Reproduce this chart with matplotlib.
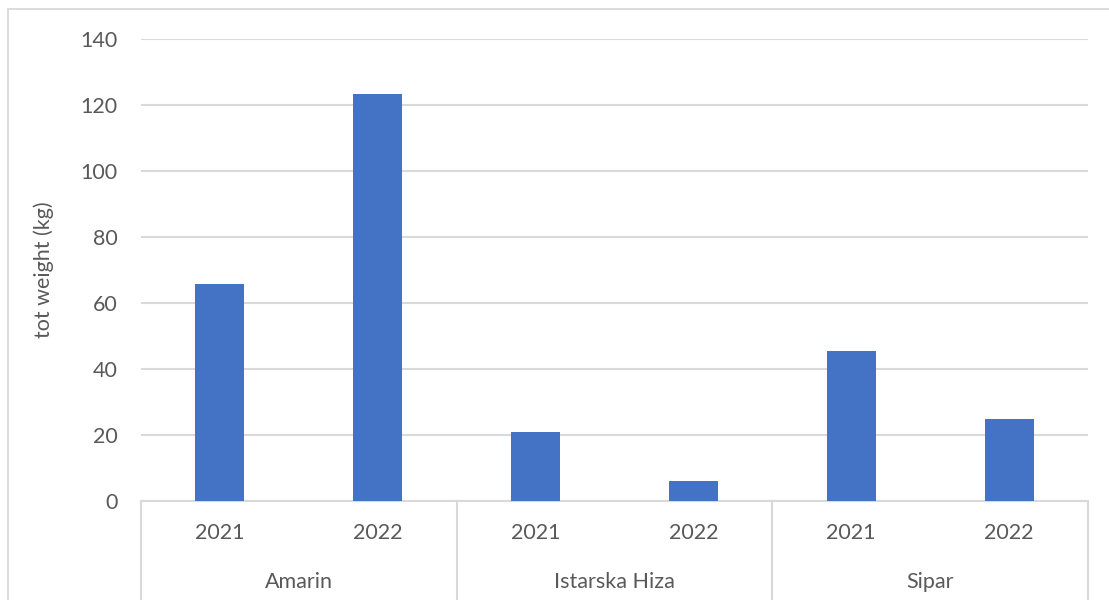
import numpy as np
import matplotlib
matplotlib.use("Agg")
from matplotlib import pyplot as plt
from matplotlib.patches import Rectangle
from matplotlib.lines import Line2D

# data
groups = ["Amarin", "Istarska Hiza", "Sipar"]
years = ["2021", "2022"]
amarin = [65.8, 123.3]
istarska = [20.9, 6.1]
sipar = [45.5, 24.8]

plt.rcParams['font.family'] = ['Lato', 'DejaVu Sans']
text_col = '#595959'
grid_col = '#d9d9d9'
bar_col = '#4472C4'
fs = 15.5

values = amarin + istarska + sipar
labels = years * len(groups)
x = np.arange(len(values))

fig = plt.figure(figsize=(11.09, 6.0), dpi=100)
# chart area border (only top/left visible in reference)
fig.patches.append(Rectangle((8 / 1109, -0.1), 1.2, 0.1 + 591 / 600, transform=fig.transFigure,
                             fill=False, edgecolor=grid_col, linewidth=1.3))

ax = fig.add_axes([141 / 1109, 1 - 501 / 600, (1088 - 141) / 1109, (501 - 39) / 600])
ax.bar(x, values, width=0.31, color=bar_col, zorder=3)

ax.set_xlim(-0.5, len(values) - 0.5)
ax.set_ylim(0, 140)
ax.set_yticks(np.arange(0, 141, 20))
ax.yaxis.grid(True, color=grid_col, linewidth=1.5, zorder=0)
ax.tick_params(axis='y', length=0, pad=17, labelsize=fs, labelcolor=text_col)
for s in ['top', 'right', 'left']:
    ax.spines[s].set_visible(False)
ax.spines['bottom'].set_color(grid_col)
ax.spines['bottom'].set_linewidth(1.5)

# year labels
ax.set_xticks(x)
ax.set_xticklabels(labels)
ax.tick_params(axis='x', length=0, pad=16, labelsize=fs, labelcolor=text_col)

# group labels and separators
trans = ax.get_xaxis_transform()
n = len(years)
for i, g in enumerate(groups):
    ax.text(i * n + (n - 1) / 2, -0.175, g, transform=trans, ha='center', va='center',
            fontsize=fs, color=text_col)
for b in range(len(groups) + 1):
    ax.add_line(Line2D([b * n - 0.5, b * n - 0.5], [0, -0.3], transform=trans,
                       color=grid_col, linewidth=1.5, clip_on=False))

ax.set_ylabel("tot weight (kg)", fontsize=fs, color=text_col, labelpad=19)

fig.savefig("out.png", dpi=100)
